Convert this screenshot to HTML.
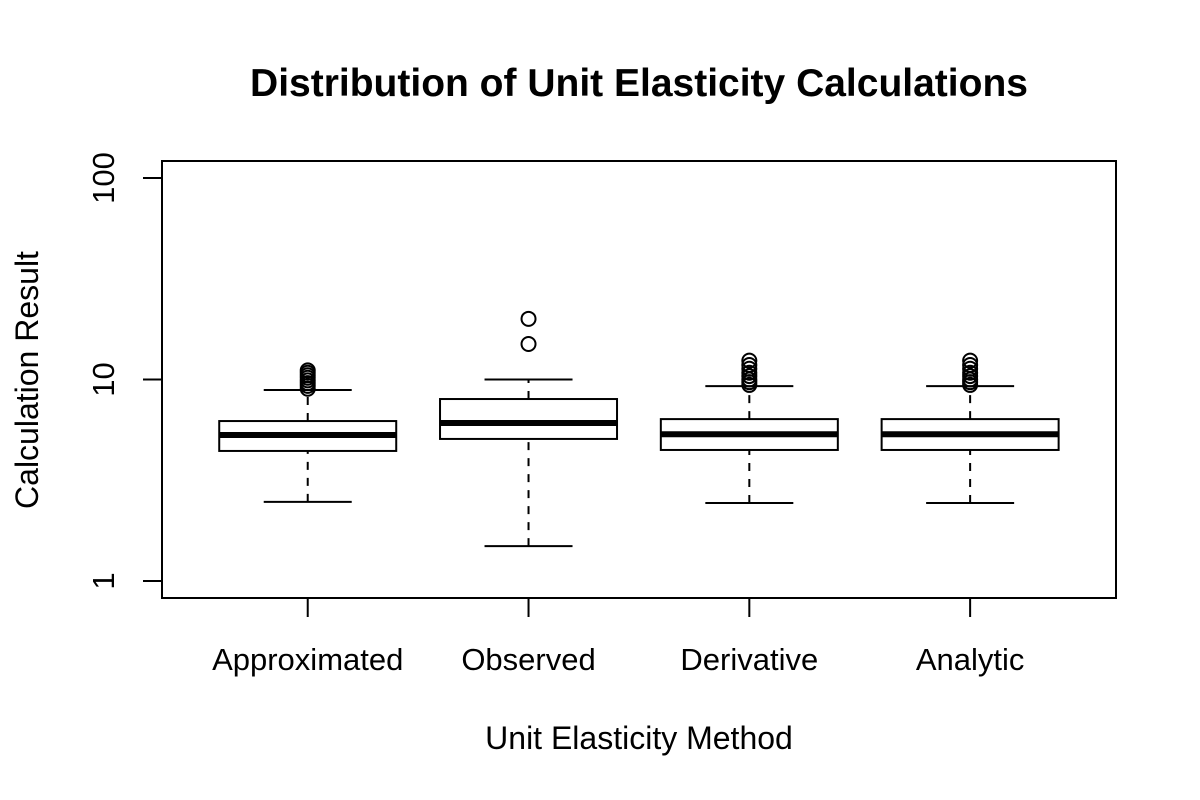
<!DOCTYPE html>
<html><head><meta charset="utf-8"><style>
html,body{margin:0;padding:0;background:#fff;}
svg{display:block;font-family:"Liberation Sans",Arial,sans-serif;}
</style></head><body>
<svg id="chart" width="1200" height="800" xmlns="http://www.w3.org/2000/svg">
<rect width="1200" height="800" fill="#fff"/>
<text x="639" y="96" text-anchor="middle" font-size="39" font-weight="bold">Distribution of Unit Elasticity Calculations</text>
<text x="639" y="749" text-anchor="middle" font-size="32">Unit Elasticity Method</text>
<text transform="translate(38,380) rotate(-90)" text-anchor="middle" font-size="32">Calculation Result</text>
<rect x="162" y="161" width="954" height="437" fill="none" stroke="#000" stroke-width="2"/>
<g id="marks"></g>
</svg>
<script>
const categories = ["Approximated","Observed","Derivative","Analytic"];
const whiskerLow = [2.47, 1.49, 2.44, 2.44];
const q1 = [4.42, 5.07, 4.47, 4.47];
const medians = [5.3, 6.08, 5.35, 5.35];
const q3 = [6.22, 8.0, 6.36, 6.36];
const whiskerHigh = [8.87, 10.0, 9.27, 9.27];
const outliers = [
  [9.0, 9.3, 9.6, 9.9, 10.2, 10.5, 10.8, 11.1],
  [15.0, 20.0],
  [9.4, 9.7, 10.0, 10.4, 10.8, 11.3, 11.8, 12.4],
  [9.4, 9.7, 10.0, 10.4, 10.8, 11.3, 11.8, 12.4]
];
const yTicks = [1, 10, 100];

const NS = "http://www.w3.org/2000/svg";
const g = document.getElementById("marks");
function y(v){ return 581 - 201.5*Math.log10(v); }
function x(i){ return 162 + (i + 1 - 0.34) * 220.8; }
function el(tag, attrs){ const e=document.createElementNS(NS,tag); for(const k in attrs) e.setAttribute(k,attrs[k]); g.appendChild(e); return e; }

yTicks.forEach(t=>{
  const tk = el("line",{x1:143,x2:162,y1:y(t),y2:y(t),stroke:"#000","stroke-width":2});
  
  
  const lb = el("text",{transform:`translate(114,${y(t)}) rotate(-90)`,"text-anchor":"middle","font-size":31});
  lb.textContent = t;
  
  
});

categories.forEach((c,i)=>{
  const cx = x(i), hw = 88.5, cap = 44;
  const tk = el("line",{x1:cx,x2:cx,y1:598,y2:617,stroke:"#000","stroke-width":2});
  
  
  const lb = el("text",{x:cx,y:670,"text-anchor":"middle","font-size":31});
  lb.textContent = c;
  
  
  const w1 = el("line",{x1:cx,x2:cx,y1:y(whiskerLow[i]),y2:y(q1[i]),stroke:"#000","stroke-width":2,"stroke-dasharray":"8,8"});
  
  
  const w2 = el("line",{x1:cx,x2:cx,y1:y(q3[i]),y2:y(whiskerHigh[i]),stroke:"#000","stroke-width":2,"stroke-dasharray":"8,8"});
  
  
  const c1 = el("line",{x1:cx-cap,x2:cx+cap,y1:y(whiskerLow[i]),y2:y(whiskerLow[i]),stroke:"#000","stroke-width":2});
  
  
  const c2 = el("line",{x1:cx-cap,x2:cx+cap,y1:y(whiskerHigh[i]),y2:y(whiskerHigh[i]),stroke:"#000","stroke-width":2});
  
  
  const bx = el("rect",{x:cx-hw,y:y(q3[i]),width:2*hw,height:y(q1[i])-y(q3[i]),fill:"#fff",stroke:"#000","stroke-width":2});
  
  
  const md = el("line",{x1:cx-hw,x2:cx+hw,y1:y(medians[i]),y2:y(medians[i]),stroke:"#000","stroke-width":6});
  
  
  outliers[i].forEach(v=>{
    const o = el("circle",{cx:cx,cy:y(v),r:7,fill:"none",stroke:"#000","stroke-width":2});
    
    
  });
});
</script>
</body></html>
